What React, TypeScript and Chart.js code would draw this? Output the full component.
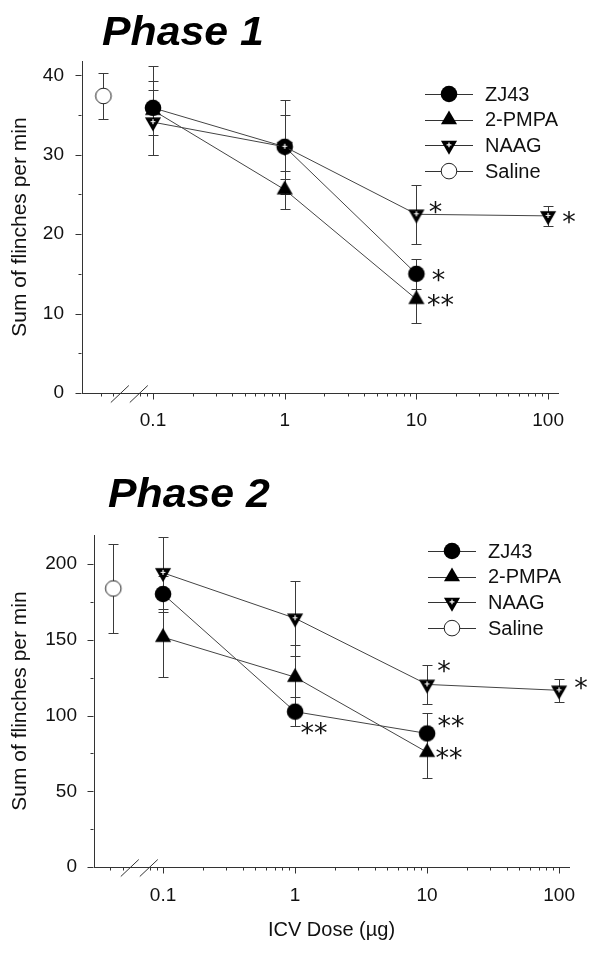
import React, { useEffect, useRef } from 'react';
import { Chart, registerables } from 'chart.js';

Chart.register(...registerables);

// ---------------- data ----------------
const seriesLabels = ['ZJ43', '2-PMPA', 'NAAG', 'Saline'];
const drugDoses = [0.1, 1, 10];
const naagDoses = [0.1, 1, 10, 100];
const salineDose = [0.042];
const xTickValues = [0.1, 1, 10, 100];
const xTickLabels = ['0.1', '1', '10', '100'];
const xMinorTicks = [0.04, 0.05, 0.08, 0.09, 0.2, 0.3, 0.4, 0.5, 0.6, 0.7, 0.8, 0.9, 2, 3, 4, 5, 6, 7, 8, 9, 20, 30, 40, 50, 60, 70, 80, 90];
const xBreakValues = [0.056, 0.078];
const xTitle = 'ICV Dose (µg)';
const yTitle = 'Sum of flinches per min';

// Phase 1
const p1ZJ43 = [35.9, 31.0, 15.0];
const p1ZJ43Err = [3.4, 4.0, 1.9];
const p1PMPA = [35.6, 25.6, 11.8];
const p1PMPAErr = [5.6, 2.4, 3.0];
const p1NAAG = [34.1, 31.0, 22.5, 22.3];
const p1NAAGErr = [4.1, 5.9, 3.7, 1.3];
const p1Saline = [37.4];
const p1SalineErr = [2.9];
const p1YTicks = [0, 10, 20, 30, 40];
const p1YMinor = [5, 15, 25, 35];
const p1StarSeries = ['NAAG', 'NAAG', 'ZJ43', '2-PMPA'];
const p1StarDoses = [10, 100, 10, 10];
const p1StarText = ['*', '*', '*', '**'];

// Phase 2
const p2ZJ43 = [180.3, 102.6, 88.2];
const p2ZJ43Err = [12.0, 9.5, 13.5];
const p2PMPA = [151.8, 125.4, 75.8];
const p2PMPAErr = [26.6, 21.2, 17.0];
const p2NAAG = [194.3, 164.3, 120.6, 116.7];
const p2NAAGErr = [23.8, 24.6, 12.8, 7.8];
const p2Saline = [184.0];
const p2SalineErr = [29.5];
const p2YTicks = [0, 50, 100, 150, 200];
const p2YMinor = [25, 75, 125, 175];
const p2StarSeries = ['NAAG', 'NAAG', 'ZJ43', '2-PMPA', 'ZJ43'];
const p2StarDoses = [10, 100, 10, 10, 1];
const p2StarText = ['*', '*', '**', '**', '**'];

// ---------------- layout / style ----------------
const FONT = '"Liberation Sans", Arial, sans-serif';
const STAR_FONT = '"DejaVu Sans", sans-serif';
const STAR_SIZE = 27;

const P1 = {
  title: 'Phase 1', canvasH: 450, padTop: 61, padRight: 42, yWidth: 82, xHeight: 57,
  yMax: 41.8, xMin: 0.0289, xMax: 118.9, xTickPad: 16, yTickPad: 18,
  titleX: 102, titleBase: 45, legendX: 425, legendY: 94, showXTitle: false,
  starOffsets: [[19, -8], [21, 1], [22, 1], [24, 0]],
};
const P2 = {
  title: 'Phase 2', canvasH: 505, padTop: 85, padRight: 31, yWidth: 94, xHeight: 88,
  yMax: 219.3, xMin: 0.030, xMax: 118.8, xTickPad: 17, yTickPad: 17,
  titleX: 108, titleBase: 57, legendX: 428, legendY: 101, showXTitle: true,
  starOffsets: [[17, -19], [22, -8], [24, -13], [22, 0], [19, 16]],
};

type Kind = 'circle' | 'up' | 'down' | 'open';

function drawMarker(ctx: CanvasRenderingContext2D, kind: Kind, c: number, cy: number) {
  ctx.save();
  ctx.fillStyle = '#000';
  ctx.strokeStyle = '#000';
  const r = 9.3;
  if (kind === 'circle') {
    ctx.beginPath();
    ctx.arc(c, cy, 8.3, 0, Math.PI * 2);
    ctx.fill();
  } else if (kind === 'open') {
    ctx.beginPath();
    ctx.arc(c, cy, 7.8, 0, Math.PI * 2);
    ctx.fillStyle = '#fff';
    ctx.fill();
    ctx.lineWidth = 1;
    ctx.strokeStyle = '#222';
    ctx.stroke();
  } else if (kind === 'up') {
    ctx.beginPath();
    ctx.moveTo(c, cy - r);
    ctx.lineTo(c + r * 0.866, cy + r / 2);
    ctx.lineTo(c - r * 0.866, cy + r / 2);
    ctx.closePath();
    ctx.fill();
  } else {
    ctx.beginPath();
    ctx.moveTo(c, cy + r);
    ctx.lineTo(c + r * 0.866, cy - r / 2);
    ctx.lineTo(c - r * 0.866, cy - r / 2);
    ctx.closePath();
    ctx.fill();
    ctx.strokeStyle = '#fff';
    ctx.lineWidth = 1.2;
    ctx.beginPath();
    ctx.moveTo(c - 2.4, cy - 0.5);
    ctx.lineTo(c + 2.4, cy - 0.5);
    ctx.moveTo(c, cy - 2.9);
    ctx.lineTo(c, cy + 1.9);
    ctx.stroke();
  }
  ctx.restore();
}

function makeMarker(kind: Kind): HTMLCanvasElement {
  const cv = document.createElement('canvas');
  cv.width = 24;
  cv.height = 24;
  const ctx = cv.getContext('2d')!;
  drawMarker(ctx, kind, 12, 12);
  return cv;
}

const kinds: Kind[] = ['circle', 'up', 'down', 'open'];

const panelPlugin = {
  id: 'panelExtras',
  beforeDatasetsDraw(chart: any) {
    const { ctx, scales } = chart;
    const xs = scales.x, ys = scales.y;
    ctx.save();
    ctx.strokeStyle = '#3a3a3a';
    ctx.lineWidth = 1;
    chart.data.datasets.forEach((ds: any) => {
      ds.data.forEach((p: any, i: number) => {
        const e = ds.errors[i];
        const x = Math.round(xs.getPixelForValue(p.x)) + 0.5;
        const yt = Math.round(ys.getPixelForValue(p.y + e)) + 0.5;
        const yb = Math.round(ys.getPixelForValue(p.y - e)) + 0.5;
        ctx.beginPath();
        ctx.moveTo(x, yt);
        ctx.lineTo(x, yb);
        ctx.moveTo(x - 5, yt);
        ctx.lineTo(x + 5, yt);
        ctx.moveTo(x - 5, yb);
        ctx.lineTo(x + 5, yb);
        ctx.stroke();
      });
    });
    ctx.restore();
  },
  afterDatasetsDraw(chart: any, _args: any, opts: any) {
    const { ctx, scales } = chart;
    const xs = scales.x, ys = scales.y;
    const L = opts.layout;
    ctx.save();
    ctx.strokeStyle = '#333';
    ctx.lineWidth = 1;
    const axisY = Math.round(xs.top) + 0.5;
    const axisX = Math.round(ys.right) - 0.5;
    ctx.beginPath();
    xTickValues.forEach((v) => {
      const px = Math.round(xs.getPixelForValue(v)) + 0.5;
      ctx.moveTo(px, axisY);
      ctx.lineTo(px, axisY + 6);
    });
    xMinorTicks.forEach((v) => {
      const px = Math.round(xs.getPixelForValue(v)) + 0.5;
      ctx.moveTo(px, axisY);
      ctx.lineTo(px, axisY + 3);
    });
    opts.yMajor.forEach((v: number) => {
      const py = Math.round(ys.getPixelForValue(v)) + 0.5;
      ctx.moveTo(axisX, py);
      ctx.lineTo(axisX - 6, py);
    });
    opts.yMinor.forEach((v: number) => {
      const py = Math.round(ys.getPixelForValue(v)) + 0.5;
      ctx.moveTo(axisX, py);
      ctx.lineTo(axisX - 3, py);
    });
    xBreakValues.forEach((v) => {
      const px = xs.getPixelForValue(v);
      ctx.moveTo(px - 9, axisY + 9);
      ctx.lineTo(px + 9, axisY - 8);
    });
    ctx.stroke();

    // significance stars
    ctx.fillStyle = '#111';
    ctx.font = `${STAR_SIZE}px ${STAR_FONT}`;
    ctx.textAlign = 'center';
    ctx.textBaseline = 'alphabetic';
    opts.starSeries.forEach((s: string, i: number) => {
      const dsIndex = seriesLabels.indexOf(s);
      const ds = chart.data.datasets[dsIndex];
      const pt = ds.data.find((p: any) => p.x === opts.starDoses[i]);
      const px = xs.getPixelForValue(pt.x) + L.starOffsets[i][0];
      const py = ys.getPixelForValue(pt.y) + L.starOffsets[i][1];
      ctx.fillText(opts.starText[i], px, py + STAR_SIZE * 0.54);
    });

    // legend
    ctx.font = `20px ${FONT}`;
    ctx.textAlign = 'left';
    ctx.textBaseline = 'middle';
    seriesLabels.forEach((lab, i) => {
      const y = L.legendY + i * 25.7;
      const yl = Math.round(y) + 0.5;
      ctx.strokeStyle = '#333';
      ctx.beginPath();
      ctx.moveTo(L.legendX, yl);
      ctx.lineTo(L.legendX + 48, yl);
      ctx.stroke();
      drawMarker(ctx, kinds[i], L.legendX + 24, y);
      ctx.fillStyle = '#111';
      ctx.fillText(lab, L.legendX + 60, y + 1);
    });

    // panel title (slightly wide bold italic)
    ctx.save();
    ctx.translate(L.titleX, L.titleBase);
    ctx.scale(1.07, 1);
    ctx.font = `italic bold 40px ${FONT}`;
    ctx.textBaseline = 'alphabetic';
    ctx.fillStyle = '#000';
    ctx.fillText(L.title, 0, 0);
    ctx.restore();
    ctx.restore();
  },
};

function buildConfig(L: any, series: any) {
  const pts = (xs: number[], ys: number[]) => xs.map((x, i) => ({ x, y: ys[i] }));
  const mk = (i: number, xs: number[], ys: number[], errs: number[], order: number, showLine = true) => ({
    label: seriesLabels[i],
    data: pts(xs, ys),
    errors: errs,
    borderColor: '#444',
    borderWidth: 1,
    pointStyle: makeMarker(kinds[i]),
    pointRadius: 9,
    pointHoverRadius: 9,
    showLine,
    order,
    tension: 0,
  });
  return {
    type: 'line',
    data: {
      datasets: [
        mk(0, drugDoses, series.zj, series.zjErr, 2),
        mk(1, drugDoses, series.pm, series.pmErr, 1),
        mk(2, naagDoses, series.na, series.naErr, 0),
        mk(3, salineDose, series.sa, series.saErr, 3, false),
      ],
    },
    options: {
      responsive: false,
      animation: false,
      devicePixelRatio: 1,
      events: [],
      layout: { padding: { top: L.padTop, right: L.padRight, left: 0, bottom: 0 } },
      plugins: {
        legend: { display: false },
        tooltip: { enabled: false },
        title: { display: false },
        panelExtras: {
          layout: L,
          yMajor: series.yTicks,
          yMinor: series.yMinor,
          starSeries: series.starSeries,
          starDoses: series.starDoses,
          starText: series.starText,
        },
      },
      scales: {
        x: {
          type: 'logarithmic',
          min: L.xMin,
          max: L.xMax,
          bounds: 'data',
          afterBuildTicks: (s: any) => { s.ticks = xTickValues.map((v) => ({ value: v })); },
          afterFit: (s: any) => { s.height = L.xHeight; },
          grid: { display: false, drawTicks: false },
          border: { display: true, color: '#333', width: 1 },
          ticks: {
            autoSkip: false, maxRotation: 0, minRotation: 0, padding: L.xTickPad, color: '#111',
            font: { family: FONT, size: 19 },
            callback: (_v: any, i: number) => xTickLabels[i],
          },
          title: {
            display: L.showXTitle, text: xTitle, color: '#111',
            font: { family: FONT, size: 20 }, padding: { top: 0, bottom: 13 },
          },
        },
        y: {
          type: 'linear',
          min: 0,
          max: L.yMax,
          bounds: 'data',
          afterBuildTicks: (s: any) => { s.ticks = series.yTicks.map((v: number) => ({ value: v })); },
          afterFit: (s: any) => { s.width = L.yWidth; },
          grid: { display: false, drawTicks: false },
          border: { display: true, color: '#333', width: 1 },
          ticks: {
            padding: L.yTickPad, color: '#111',
            font: { family: FONT, size: 19 },
            callback: (v: any) => String(v),
          },
          title: {
            display: true, text: yTitle, color: '#111',
            font: { family: FONT, size: 21 }, padding: { top: 8, bottom: 0 },
          },
        },
      },
    },
    plugins: [panelPlugin],
  };
}

const p1Series = {
  zj: p1ZJ43, zjErr: p1ZJ43Err, pm: p1PMPA, pmErr: p1PMPAErr, na: p1NAAG, naErr: p1NAAGErr,
  sa: p1Saline, saErr: p1SalineErr, yTicks: p1YTicks, yMinor: p1YMinor,
  starSeries: p1StarSeries, starDoses: p1StarDoses, starText: p1StarText,
};
const p2Series = {
  zj: p2ZJ43, zjErr: p2ZJ43Err, pm: p2PMPA, pmErr: p2PMPAErr, na: p2NAAG, naErr: p2NAAGErr,
  sa: p2Saline, saErr: p2SalineErr, yTicks: p2YTicks, yMinor: p2YMinor,
  starSeries: p2StarSeries, starDoses: p2StarDoses, starText: p2StarText,
};

function Panel({ layout, series, top }: { layout: any; series: any; top: number }) {
  const ref = useRef<HTMLCanvasElement>(null);
  useEffect(() => {
    const chart = new Chart(ref.current as HTMLCanvasElement, buildConfig(layout, series) as any);
    return () => chart.destroy();
  }, []);
  return (
    <div style={{ position: 'absolute', left: 0, top, width: 600, height: layout.canvasH }}>
      <canvas ref={ref} width={600} height={layout.canvasH} style={{ display: 'block', width: 600, height: layout.canvasH }} />
    </div>
  );
}

export default function App() {
  return (
    <div style={{ position: 'absolute', left: 0, top: 0, width: 600, height: 955, background: '#fff' }}>
      <Panel layout={P1} series={p1Series} top={0} />
      <Panel layout={P2} series={p2Series} top={450} />
    </div>
  );
}
